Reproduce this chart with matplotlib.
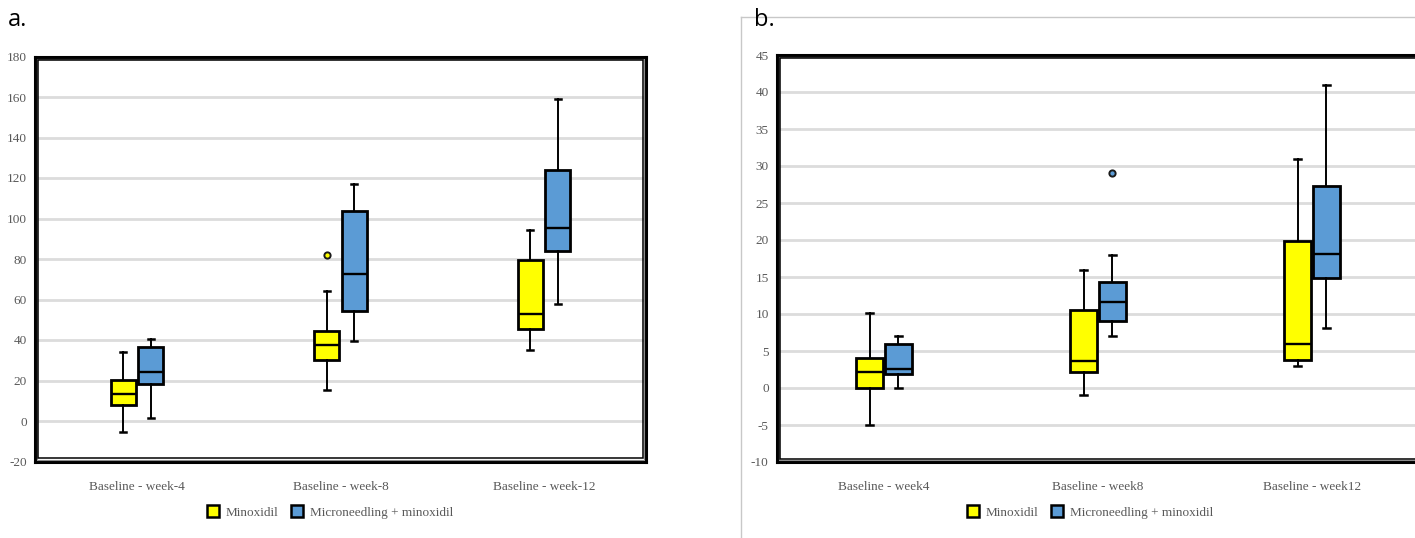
import matplotlib
matplotlib.use("Agg")
import matplotlib.pyplot as plt
from matplotlib.patches import Rectangle, Patch
from matplotlib.lines import Line2D

plt.rcParams["axes.unicode_minus"] = False

# ---------------- data ----------------
cats_a = ["Baseline - week-4", "Baseline - week-8", "Baseline - week-12"]
cats_b = ["Baseline - week4", "Baseline - week8", "Baseline - week12"]
series = ["Minoxidil", "Microneedling + minoxidil"]

# each row: [whislo, q1, med, q3, whishi]
a_minox = [[-5.3, 8.0, 13.4, 20.3, 33.9],
           [15.3, 30.2, 37.6, 44.4, 64.2],
           [35.1, 45.6, 52.9, 79.3, 94.2]]
a_micro = [[1.4, 18.5, 24.0, 36.3, 40.7],
           [39.5, 54.2, 72.5, 103.9, 116.8],
           [57.8, 83.9, 95.4, 124.1, 159.2]]
a_minox_out = [[], [81.9], []]
a_micro_out = [[], [], []]

b_minox = [[-5.0, 0.0, 2.1, 4.1, 10.1],
           [-0.9, 2.1, 3.6, 10.6, 16.0],
           [3.0, 3.8, 6.0, 19.8, 31.0]]
b_micro = [[0.0, 1.86, 2.6, 6.0, 7.06],
           [7.06, 9.1, 11.6, 14.3, 18.0],
           [8.1, 14.8, 18.1, 27.3, 40.9]]
b_minox_out = [[], [], []]
b_micro_out = [[], [29.0], []]

ylim_a, yticks_a = (-20, 180), list(range(-20, 181, 20))
ylim_b, yticks_b = (-10, 45), list(range(-10, 46, 5))

YELLOW = "#FFFF00"
BLUE = "#5B9BD5"
GRID = "#dcdcdc"
TXT = "#595959"
SERIF = ["Liberation Serif", "DejaVu Serif"]

W, H = 1415, 538
fig = plt.figure(figsize=(W / 100, H / 100), dpi=100)


def px_axes(l, t, r, b):
    return fig.add_axes([l / W, 1 - b / H, (r - l) / W, (b - t) / H])


def stats(rows, outs):
    res = []
    for r, o in zip(rows, outs):
        res.append(dict(whislo=r[0], q1=r[1], med=r[2], q3=r[3], whishi=r[4], fliers=o))
    return res


def draw(ax, cats, minox, micro, mo, mio, ylim, yticks, legend_x):
    n = len(cats)
    off, wid = 0.0675, 0.123
    for data, outs, color, sgn in [(minox, mo, YELLOW, -1), (micro, mio, BLUE, 1)]:
        pos = [i + sgn * off for i in range(n)]
        ax.bxp(stats(data, outs), positions=pos, widths=wid, patch_artist=True,
               showfliers=True, capwidths=0.03,
               boxprops=dict(facecolor=color, edgecolor="black", linewidth=2.0),
               medianprops=dict(color="black", linewidth=1.7),
               whiskerprops=dict(color="black", linewidth=1.4),
               capprops=dict(color="black", linewidth=1.8),
               flierprops=dict(marker="o", markersize=4.5, markerfacecolor=color,
                               markeredgecolor="#1a1a1a", markeredgewidth=1.4),
               zorder=3)
    ax.set_xlim(-0.5, n - 0.5)
    ax.set_ylim(*ylim)
    ax.set_yticks(yticks)
    ax.set_xticks(range(n))
    ax.set_xticklabels(cats)
    ax.tick_params(length=0, labelsize=9.5, labelcolor=TXT, pad=14, axis="x")
    ax.tick_params(length=0, labelsize=9.5, labelcolor=TXT, pad=6, axis="y")
    for lab in ax.get_xticklabels() + ax.get_yticklabels():
        lab.set_family(SERIF)
    ax.yaxis.grid(True, color=GRID, linewidth=2.0, zorder=0)
    ax.set_axisbelow(True)
    for s in ax.spines.values():
        s.set_linewidth(2.2)
        s.set_color("black")
    # double frame: grey gap line and inner black line
    bb = ax.get_position()
    for inset, col, lw in [(2.0, "#8c8c8c", 0.8), (3.2, "black", 1.1)]:
        dx = inset / (bb.width * W)
        dy = inset / (bb.height * H)
        ax.add_patch(Rectangle((dx, dy), 1 - 2 * dx, 1 - 2 * dy, transform=ax.transAxes,
                               fill=False, edgecolor=col, linewidth=lw, zorder=5,
                               clip_on=False))
    handles = [Patch(facecolor=YELLOW, edgecolor="black", linewidth=1.8),
               Patch(facecolor=BLUE, edgecolor="black", linewidth=1.8)]
    fig.legend(handles, series, loc="center", bbox_to_anchor=(legend_x / W, 1 - 512 / H),
               ncol=2, frameon=False, handlelength=0.9, handleheight=1.0,
               handletextpad=0.5, columnspacing=1.0,
               prop=dict(family=SERIF, size=9.5), labelcolor=TXT)


ax_a = px_axes(35, 56.5, 646, 461.5)
draw(ax_a, cats_a, a_minox, a_micro, a_minox_out, a_micro_out, ylim_a, yticks_a, 330)

ax_b = px_axes(777, 55, 1419, 462)
draw(ax_b, cats_b, b_minox, b_micro, b_minox_out, b_micro_out, ylim_b, yticks_b, 1090)

# panel b outer thin border
fig.add_artist(Line2D([741 / W, 741 / W], [0, 1 - 17 / H], color="#c8c8c8", linewidth=1.0))
fig.add_artist(Line2D([741 / W, 1], [1 - 17 / H, 1 - 17 / H], color="#c8c8c8", linewidth=1.0))

fig.text(8 / W, 1 - 20 / H, "a.", fontsize=17, family=["Open Sans", "DejaVu Sans"],
         va="center", ha="left")
fig.text(754 / W, 1 - 20 / H, "b.", fontsize=17, family=["Open Sans", "DejaVu Sans"],
         va="center", ha="left")

fig.savefig("out.png", dpi=100)
